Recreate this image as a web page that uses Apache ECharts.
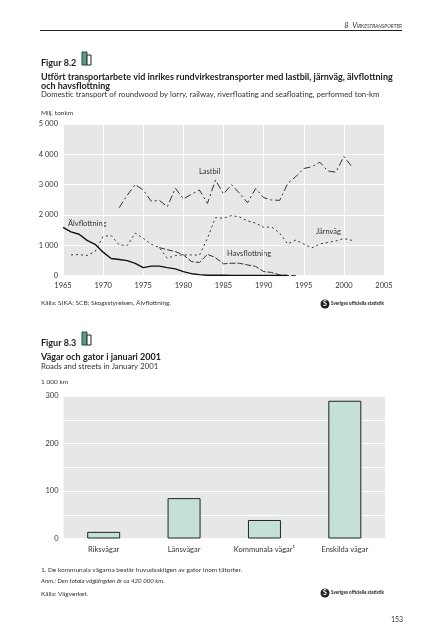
<!DOCTYPE html>
<html><head><meta charset="utf-8">
<style>html,body{margin:0;padding:0;background:#fff}#c{width:447px;height:640px}</style>
<script src="https://cdn.jsdelivr.net/npm/echarts@6/dist/echarts.min.js"></script>
</head><body><div id="c"></div>
<script>
const lastbilYears=[1972,1973,1974,1975,1976,1977,1978,1979,1980,1981,1982,1983,1984,1985,1986,1987,1988,1989,1990,1991,1992,1993,1994,1995,1996,1997,1998,1999,2000,2001];
const lastbil=[2240,2650,3000,2820,2450,2480,2270,2880,2530,2680,2820,2380,3150,2690,3000,2710,2400,2870,2570,2490,2480,3040,3260,3530,3590,3740,3450,3410,3930,3590];
const jarnvagYears=[1966,1967,1968,1969,1970,1971,1972,1973,1974,1975,1976,1977,1978,1979,1980,1981,1982,1983,1984,1985,1986,1987,1988,1989,1990,1991,1992,1993,1994,1995,1996,1997,1998,1999,2000,2001];
const jarnvag=[680,690,660,790,1290,1320,1010,990,1400,1230,1030,920,570,660,680,680,670,1230,1910,1890,1980,1930,1800,1730,1590,1600,1400,1040,1170,1040,910,1040,1090,1140,1220,1160];
const havsYears=[1977,1978,1979,1980,1981,1982,1983,1984,1985,1986,1987,1988,1989,1990,1991,1992,1993,1994];
const havs=[920,850,790,680,460,430,700,590,385,405,405,350,300,130,100,20,0,0];
const alvYears=[1965,1966,1967,1968,1969,1970,1971,1972,1973,1974,1975,1976,1977,1978,1979,1980,1981,1982,1983,1984,1985,1986,1987,1988,1989,1990,1991,1992,1993];
const alv=[1590,1440,1360,1160,1030,770,560,530,490,400,260,310,310,260,220,130,60,30,10,10,10,5,5,5,5,5,5,0,0];
const roadCats=['Riksvägar','Länsvägar','Kommunala vägar¹','Enskilda vägar'];
const roadVals=[14,85,39,290];
const pair=(xs,ys)=>xs.map((x,i)=>[x,ys[i]]);
const FONT='Lato, "Open Sans", sans-serif';
const TXT='#333';
const grp=n=>String(n).replace(/\B(?=(\d{3})+$)/g,' ');
function line(xs,ys,type,width,color){return{type:'line',xAxisIndex:0,yAxisIndex:0,data:pair(xs,ys),symbol:'none',silent:true,
  lineStyle:{color:color||'#333',width:width,type:type}};}
function text(x,y,s,o){return {type:'text',x:x,y:y,silent:true,style:Object.assign({text:s,fill:TXT,font:'7.5px '+FONT,textVerticalAlign:'middle'},o||{})};}
function icon(x,y){return [
  {type:'rect',silent:true,shape:{x:x,y:y,width:5,height:13},style:{fill:'#5c9c86',stroke:'#1f4a3c',lineWidth:1}},
  {type:'rect',silent:true,shape:{x:x+5,y:y+3,width:4,height:10},style:{fill:'#fff',stroke:'#222',lineWidth:1}}];}
function sos(x,y){return [
  {type:'circle',silent:true,shape:{cx:x,cy:y,r:4.5},style:{fill:'#222'}},
  text(x,y,'S',{font:'bold 7px '+FONT,fill:'#fff',textAlign:'center'}),
  text(x+6,y,'Sveriges officiella statistik',{font:'bold 4.6px '+FONT,fill:'#222'})];}
const B='bold 9px '+FONT;
const S='6.5px '+FONT;
const E='7.8px '+FONT;
const graphic=[
  {type:'line',silent:true,shape:{x1:40,y1:30.5,x2:402,y2:30.5},style:{stroke:'#222',lineWidth:1}},
  text(402,26,'8  Virkestransporter',{font:'italic small-caps 7.5px '+FONT,textAlign:'right'}),
  text(41,63,'Figur 8.2',{font:B,fill:'#222'}),...icon(82,52),
  text(41,77,'Utfört transportarbete vid inrikes rundvirkestransporter med lastbil, järnväg, älvflottning',{font:B,fill:'#222'}),
  text(41,86,'och havsflottning',{font:B,fill:'#222'}),
  text(41,94,'Domestic transport of roundwood by lorry, railway, riverfloating and seafloating, performed ton-km',{font:E}),
  text(41,113,'Milj. tonkm',{font:S}),
  text(199,172,'Lastbil'),text(68,224,'Älvflottning'),text(227,254,'Havsflottning'),text(316,232,'Järnväg'),
  text(41,303,'Källa: SIKA; SCB; Skogsstyrelsen, Älvflottning.',{font:S}),
  ...sos(325,304),
  text(41,343,'Figur 8.3',{font:B,fill:'#222'}),...icon(82,332),
  text(41,357,'Vägar och gator i januari 2001',{font:B,fill:'#222'}),
  text(41,366,'Roads and streets in January 2001',{font:E}),
  text(41,382,'1 000 km',{font:S}),
  text(41,570,'1. De kommunala vägarna består huvudsakligen av gator inom tätorter.',{font:S}),
  text(41,581,'Anm.: Den totala våglängden är ca 420 000 km.',{font:'italic 6.2px '+FONT}),
  text(41,594,'Källa: Vägverket.',{font:S}),
  ...sos(325,593),
  text(391,620,'153',{font:'7px '+FONT})
];
const chart=echarts.init(document.getElementById('c'),null,{renderer:'canvas'});
const axisFont={color:TXT,fontFamily:FONT,fontSize:7.5};
chart.setOption({
  animation:false,backgroundColor:'#fff',
  grid:[
    {left:63,top:124,width:321,height:151.5,show:true,backgroundColor:'#e6e7e7',borderWidth:0,containLabel:false},
    {left:63.5,top:396,width:321.5,height:142.5,show:true,backgroundColor:'#e6e7e7',borderWidth:0,containLabel:false}
  ],
  xAxis:[
    {type:'value',gridIndex:0,min:1965,max:2005,interval:5,axisLine:{show:false},axisTick:{show:false},
      axisLabel:{...axisFont,margin:6,formatter:v=>String(v)},splitLine:{show:true,lineStyle:{color:'#fff',width:1}}},
    {type:'category',gridIndex:1,data:roadCats,axisLine:{show:false},axisTick:{show:false},
      axisLabel:{...axisFont,margin:7,interval:0},splitLine:{show:false}}
  ],
  yAxis:[
    {type:'value',gridIndex:0,min:0,max:5000,interval:1000,axisLine:{show:false},axisTick:{show:false},
      axisLabel:{...axisFont,margin:5,formatter:v=>grp(v)},splitLine:{show:true,lineStyle:{color:'#fff',width:1}}},
    {type:'value',gridIndex:1,min:0,max:300,interval:50,axisLine:{show:false},axisTick:{show:false},
      axisLabel:{...axisFont,margin:5,formatter:v=>v%100===0?String(v):''},splitLine:{show:true,lineStyle:{color:'#fff',width:1}}}
  ],
  series:[
    line(lastbilYears,lastbil,[7,3,2,3],1),
    line(jarnvagYears,jarnvag,[2,3],1),
    line(havsYears,havs,[6,2],1),
    line(alvYears,alv,'solid',1.4,'#111'),
    {type:'bar',xAxisIndex:1,yAxisIndex:1,data:roadVals,barWidth:33,silent:true,
      itemStyle:{color:'#c5e0d5',borderColor:'#222',borderWidth:1}}
  ],
  graphic:graphic
});
</script></body></html>
